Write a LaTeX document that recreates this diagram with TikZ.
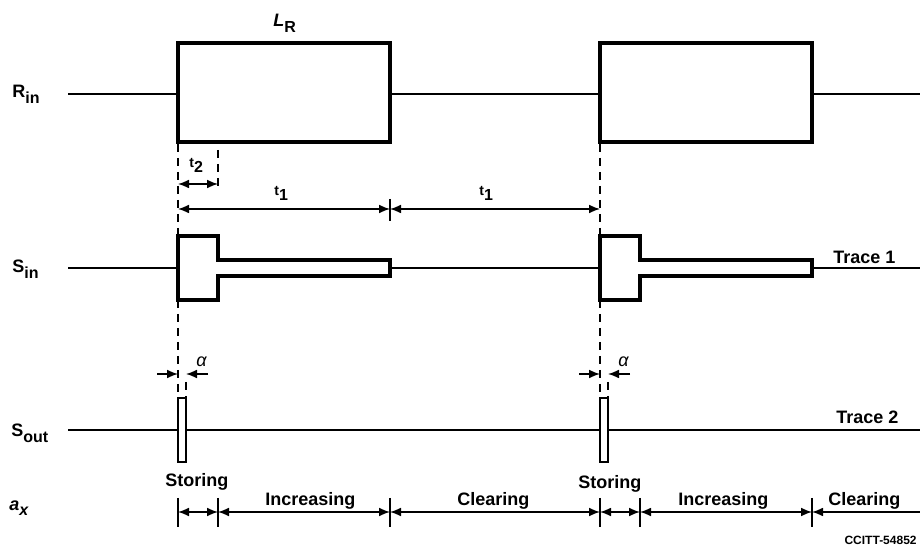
\documentclass[tikz,border=0pt]{standalone}
\usepackage{fontspec}
\setmainfont{Liberation Sans}
\usetikzlibrary{arrows.meta,positioning}

\newcommand{\lo}[1]{\raisebox{-0.55ex}{\fontsize{8}{9}\selectfont #1}}

\begin{document}
\begin{tikzpicture}[x=0.5pt,y=-0.5pt,>={Latex[length=5.5pt,width=4.4pt]},
	sig/.style={line width=0.9pt},
	pulse/.style={line width=1.9pt,line join=miter},
	guide/.style={line width=0.6pt,dash pattern=on 4pt off 3pt},
	dim/.style={line width=0.7pt},
	tickline/.style={line width=0.8pt},
	lbl/.style={anchor=base west,inner sep=0pt,font=\bfseries\fontsize{9}{11}\selectfont},
	small/.style={anchor=base west,inner sep=0pt,font=\bfseries\fontsize{7}{9}\selectfont}]
	\useasboundingbox (0,0) rectangle (920,549);

	% row names
	\node [lbl] at (12,98) (rin) {R\lo{in}};
	\node [lbl] at (12,273) (sin) {S\lo{in}};
	\node [lbl] at (11,437) (sout) {S\lo{out}};
	\node [lbl] at (9,510) (ax) {\itshape a\lo{x}};
	\node [lbl] at (273,27) (lr) {\itshape L\upshape\lo{R}};

	% R_in
	\draw [sig] (68,94) -- (178,94) (390,94) -- (600,94) (812,94) -- (920,94);
	\draw [pulse] (178,43) rectangle (390,142) (600,43) rectangle (812,142);

	% S_in
	\draw [sig] (68,268) -- (178,268) (390,268) -- (600,268) (812,268) -- (920,268);
	\foreach \s in {178,600}
		\draw [pulse] (\s,236) -- ++(40,0) -- ++(0,24) -- ++(172,0) -- ++(0,16)
			-- ++(-172,0) -- ++(0,24) -- ++(-40,0) -- cycle;
	\node [lbl] at (833,264) (tr1) {Trace 1};

	% S_out
	\draw [sig] (68,430) -- (920,430);
	\foreach \s in {178,600}
		\draw [pulse,line width=1.4pt,fill=white] (\s,398) rectangle ++(8,64);
	\node [lbl] at (836,424) (tr2) {Trace 2};

	% guides
	\foreach \s in {178,600} {
		\draw [guide] (\s,144) -- (\s,236) (\s,300) -- (\s,398);
		\draw [guide] (\s+8,382) -- (\s+8,398);
	}
	\draw [guide] (218,150) -- (218,190);

	% t2, t1
	\coordinate (t2a) at (178,184);
	\coordinate (t2b) at (218,184);
	\coordinate (t1a) at (178,209);
	\coordinate (t1b) at (390,209);
	\coordinate (t1c) at (600,209);
	\path [<->,dim]
	(t2a) edge (t2b)
	(t1a) edge (t1b)
	(t1b) edge (t1c);
	\draw [tickline] (390,199) -- (390,221);
	\node [small] at (189,168) (lt2) {t\lo{2}};
	\node [small] at (274,196) (lt1) {t\lo{1}};
	\node [small] at (479,196) (lt1b) {t\lo{1}};

	% alpha
	\foreach \s/\n in {178/a,600/b} {
		\coordinate (\n l) at (\s-21,374);
		\coordinate (\n r) at (\s+30,374);
		\coordinate (\n 0) at (\s,374);
		\coordinate (\n 1) at (\s+8,374);
		\path [->,dim] (\n l) edge (\n 0) (\n r) edge (\n 1);
		\node [lbl,font=\fontsize{9}{11}\selectfont] at (\s+18,367) {\itshape α};
	}

	% a_x phases
	\foreach \x [count=\i] in {178,218,390,600,640,812} {
		\coordinate (p\i) at (\x,512);
		\draw [tickline] (\x,498) -- (\x,527);
	}
	\coordinate (pend) at (920,512);
	\path [<->,dim]
	(p1) edge (p2)
	(p2) edge (p3)
	(p3) edge (p4)
	(p4) edge (p5)
	(p5) edge (p6);
	\path [<-,dim] (p6) edge (pend);

	\node [lbl] at (165,487) (st1) {Storing};
	\node [lbl] at (265,505) (in1) {Increasing};
	\node [lbl] at (457,505) (cl1) {Clearing};
	\node [lbl] at (578,488) (st2) {Storing};
	\node [lbl] at (678,505) (in2) {Increasing};
	\node [lbl] at (828,505) (cl2) {Clearing};
	\node [anchor=base east,inner sep=0pt,font=\bfseries\fontsize{6}{7}\selectfont] at (917,545) (ref) {CCITT-54852};
\end{tikzpicture}
\end{document}
